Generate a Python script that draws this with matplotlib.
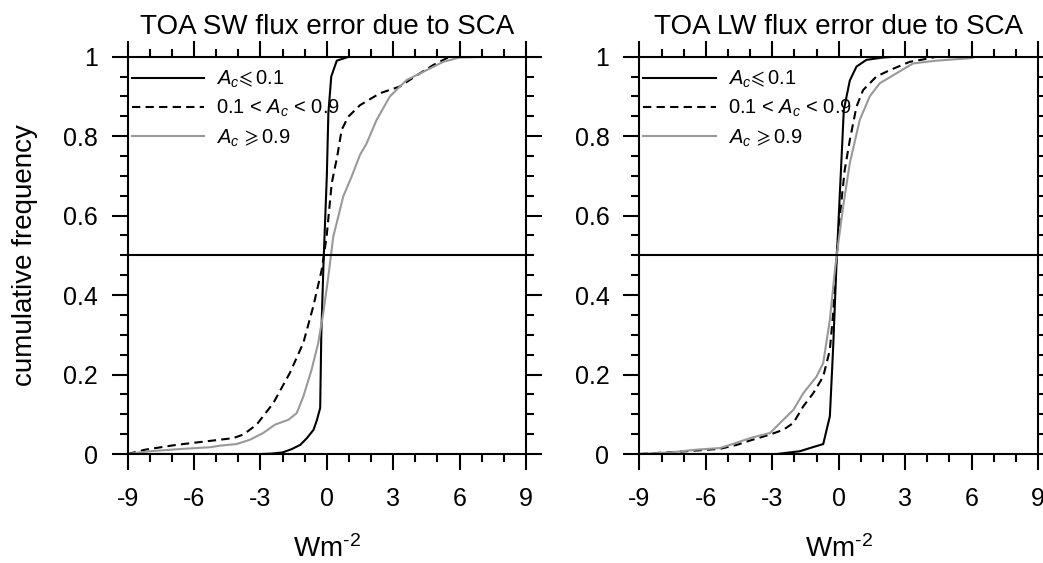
import matplotlib
matplotlib.use('Agg')
from matplotlib import pyplot as plt
from matplotlib.ticker import MultipleLocator

plt.rcParams['font.family'] = ['Liberation Sans', 'DejaVu Sans']
plt.rcParams['mathtext.fontset'] = 'custom'
plt.rcParams['mathtext.rm'] = 'Liberation Sans'
plt.rcParams['mathtext.it'] = 'Liberation Sans:italic'
plt.rcParams['mathtext.fallback'] = 'stixsans'

# SW panel
sw_low_x = [-9, -3, -2.5, -2.0, -1.6, -1.2, -0.9, -0.6, -0.45, -0.3, -0.25, -0.15, 0.0, 0.07, 0.2, 0.45, 1.0, 9]
sw_low_y = [0, 0, 0.001, 0.004, 0.012, 0.023, 0.04, 0.061, 0.085, 0.116, 0.30, 0.48, 0.70, 0.858, 0.95, 0.99, 1.0, 1.0]
sw_mid_x = [-9, -8.2, -6.8, -5.43, -4.23, -3.77, -3.17, -2.42, -1.67, -1.06, -0.61, -0.23, -0.01, 0.22, 0.47, 0.67, 0.97, 1.5, 2.4, 3.3, 4.2, 4.81, 5.41, 5.7, 9]
sw_mid_y = [0, 0.011, 0.023, 0.032, 0.04, 0.049, 0.074, 0.128, 0.204, 0.28, 0.372, 0.464, 0.547, 0.681, 0.749, 0.816, 0.849, 0.878, 0.908, 0.925, 0.958, 0.979, 0.996, 1.0, 1.0]
sw_high_x = [-9, -7.99, -6.49, -5.28, -4.83, -4.08, -3.47, -2.87, -2.34, -1.74, -1.36, -1.06, -0.69, -0.39, -0.16, 0.07, 0.29, 0.52, 0.74, 1.12, 1.5, 1.8, 2.25, 2.85, 3.6, 4.36, 5.26, 6.0, 7.5, 9]
sw_high_y = [0, 0.007, 0.013, 0.017, 0.021, 0.025, 0.036, 0.053, 0.074, 0.086, 0.103, 0.145, 0.212, 0.279, 0.355, 0.447, 0.547, 0.598, 0.648, 0.698, 0.753, 0.782, 0.841, 0.9, 0.941, 0.962, 0.987, 0.998, 1.0, 1.0]

# LW panel
lw_low_x = [-9, -2.8, -1.75, -1.3, -0.7, -0.4, -0.25, -0.1, 0.08, 0.23, 0.5, 0.8, 1.25, 2.0, 2.6, 9]
lw_low_y = [0, 0, 0.007, 0.015, 0.025, 0.095, 0.27, 0.48, 0.69, 0.866, 0.94, 0.975, 0.992, 0.998, 1.0, 1.0]
lw_mid_x = [-9, -6.87, -5.36, -4.6, -4.0, -3.1, -2.5, -2.05, -1.6, -1.15, -0.7, -0.4, -0.25, -0.1, 0.05, 0.27, 0.5, 0.8, 1.1, 1.7, 2.3, 3.2, 4.1, 4.4, 9]
lw_mid_y = [0, 0.007, 0.013, 0.023, 0.034, 0.049, 0.061, 0.078, 0.12, 0.153, 0.195, 0.262, 0.355, 0.497, 0.598, 0.715, 0.79, 0.874, 0.916, 0.95, 0.966, 0.987, 0.996, 1.0, 1.0]
lw_high_x = [-9, -7.6, -6.4, -5.36, -4.9, -4.0, -3.1, -2.65, -2.05, -1.6, -1.0, -0.7, -0.4, -0.17, -0.02, 0.2, 0.5, 0.95, 1.4, 1.85, 2.6, 3.35, 4.4, 5.9, 6.2, 9]
lw_high_y = [0, 0.004, 0.011, 0.015, 0.023, 0.04, 0.053, 0.078, 0.111, 0.153, 0.195, 0.229, 0.338, 0.464, 0.531, 0.623, 0.732, 0.841, 0.9, 0.933, 0.958, 0.983, 0.99, 0.996, 1.0, 1.0]

labels = [r'$A_c\!\leqslant$0.1', r'0.1 < $A_c$ < 0.9', r'$A_c\,\geqslant$0.9']
titles = ['TOA SW flux error due to SCA', 'TOA LW flux error due to SCA']
xticks = [-9, -6, -3, 0, 3, 6, 9]

fig = plt.figure(figsize=(10.43, 5.63), dpi=100)
ax1 = fig.add_axes([0.1224, 0.1936, 0.3819, 0.7057])
ax2 = fig.add_axes([0.613, 0.1936, 0.3823, 0.7057])

panels = [(ax1, sw_low_x, sw_low_y, sw_mid_x, sw_mid_y, sw_high_x, sw_high_y),
          (ax2, lw_low_x, lw_low_y, lw_mid_x, lw_mid_y, lw_high_x, lw_high_y)]

for i, (ax, lx, ly, mx, my, hx, hy) in enumerate(panels):
    ax.plot(lx, ly, color='k', lw=1.5, label=labels[0])
    ax.plot(mx, my, color='k', lw=1.5, ls=(0, (4, 2.5)), label=labels[1])
    ax.plot(hx, hy, color='#999999', lw=1.5, label=labels[2])
    ax.axhline(0.5, color='k', lw=1.5)
    ax.set_xlim(-9, 9)
    ax.set_ylim(0, 1)
    ax.set_xticks(xticks)
    ax.set_xticklabels([str(t) for t in xticks])
    ax.set_yticks([0, 0.2, 0.4, 0.6, 0.8, 1])
    ax.set_yticklabels(['0', '0.2', '0.4', '0.6', '0.8', '1'])
    ax.xaxis.set_minor_locator(MultipleLocator(1))
    ax.yaxis.set_minor_locator(MultipleLocator(0.05))
    ax.tick_params(which='both', direction='out', top=True, right=True, width=1.5, labelsize=18)
    ax.tick_params(which='major', length=11.5)
    ax.tick_params(which='minor', length=5.8)
    ax.tick_params(axis='x', which='major', pad=12)
    ax.tick_params(axis='y', which='major', pad=10)
    for s in ax.spines.values():
        s.set_linewidth(1.5)
    ax.set_title(titles[i], fontsize=20, pad=16)
    ax.set_xlabel('Wm$^{\\text{-2}}$', fontsize=20, labelpad=18)
    ax.legend(loc='upper left', bbox_to_anchor=(0.0, 0.98), frameon=False, fontsize=14.5,
              handlelength=3.6, handletextpad=0.6, labelspacing=0.4, borderpad=0,
              borderaxespad=0.2)

ax1.set_ylabel('cumulative frequency', fontsize=20, labelpad=18)

fig.savefig('out.png', dpi=100)
